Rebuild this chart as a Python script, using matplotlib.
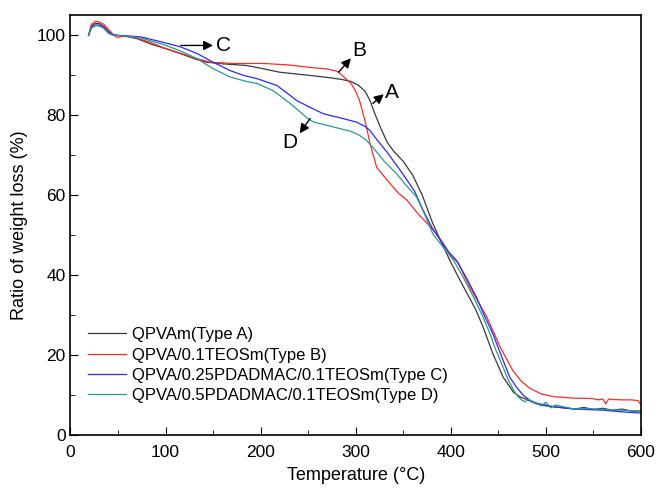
import matplotlib
matplotlib.use("Agg")
import matplotlib.pyplot as plt
from matplotlib.ticker import MultipleLocator

plt.rcParams['font.family'] = ['Liberation Sans', 'DejaVu Sans']

# --- data (temperature in degC, weight ratio in %) ---
t_a = [19, 22, 26, 30, 35, 40, 45, 50, 60, 70, 85, 100, 115, 130, 143, 160, 185, 200, 220,
       240, 252, 270, 285, 295, 303, 310, 315, 320, 326, 333, 340, 350, 360, 370, 381, 390,
       399, 408, 417, 426, 434, 444, 455, 466, 473, 480, 490, 500, 510, 520, 530, 540, 550,
       560, 570, 580, 590, 600]
w_a = [100, 102.4, 103, 103, 102.3, 101, 100.2, 100, 99.7, 99.2, 97.8, 96.7, 95.5, 94.2,
       93.3, 92.9, 92.5, 91.8, 90.8, 90.3, 90, 89.5, 89, 88.5, 87.5, 86, 83.7, 80.5, 77, 73.3,
       71, 68.5, 65, 60, 53, 48.3, 43.7, 39.5, 35.5, 31.5, 27, 20.5, 14.5, 10.7, 9.5, 8.9,
       7.8, 7.3, 7, 6.8, 6.5, 6.9, 6.4, 6.7, 6.2, 6.5, 6, 6]

t_b = [19, 22, 26, 30, 35, 40, 45, 49, 53, 60, 70, 85, 97, 115, 133, 147, 170, 203, 230,
       252, 270, 281, 288, 295, 300, 304, 310, 315, 322, 333, 345, 354, 365, 375, 385, 392,
       400, 408, 420, 438, 452, 465, 474, 483, 495, 508, 520, 530, 540, 550, 555, 560, 563,
       566, 570, 580, 590, 597, 600]
w_b = [100, 102.8, 103.5, 103.4, 102.8, 101.5, 100.2, 99.5, 99.7, 99.8, 99.3, 98.2, 97,
       95.6, 94.2, 93.3, 93, 93, 92.6, 92, 91.6, 91, 89.5, 88, 86, 83.7, 78.5, 73, 67, 63.8,
       60.5, 58.8, 55.5, 53, 50.3, 48, 45, 43, 37, 29.5, 22, 16.2, 13.5, 11.7, 10.3, 9.6,
       9.4, 9.2, 9.2, 9.1, 8.8, 9, 7.8, 9, 8.9, 8.8, 8.8, 8.6, 7.5]

t_c = [19, 22, 26, 30, 35, 40, 45, 50, 60, 75, 97, 115, 133, 150, 168, 182, 196, 217, 231,
       238, 252, 266, 285, 301, 310, 315, 322, 333, 343, 354, 362, 371, 380, 389, 397, 406,
       416, 427, 436, 444, 455, 462, 469, 476, 483, 491, 500, 510, 530, 561, 580, 600]
w_c = [100, 102, 102.6, 102.6, 102, 100.8, 100.1, 100, 99.9, 99.6, 98.3, 97.2, 95.5, 93.3,
       91.2, 90, 89.2, 87.5, 85, 83.7, 82, 80.4, 79.3, 78.3, 77.2, 76.2, 74, 70.8, 67.5, 63.8,
       61, 56.2, 52, 48.8, 46, 43.7, 39.5, 34.5, 29.5, 25.5, 18.7, 14.5, 12, 10, 8.7, 7.9,
       7.5, 7, 6.5, 6.2, 5.8, 5.5]

t_d = [19, 22, 26, 30, 35, 40, 45, 50, 60, 75, 97, 115, 133, 150, 168, 185, 196, 213, 231,
       241, 249, 256, 270, 283, 295, 304, 311, 318, 330, 343, 353, 364, 372, 381, 392, 403,
       413, 424, 433, 441, 447, 452, 460, 466, 471, 475, 478, 482, 486, 491, 495, 500, 505,
       510, 520, 530, 545, 560, 580, 600]
w_d = [100, 101.8, 102.4, 102.4, 101.8, 100.5, 100, 100, 99.8, 99.3, 97.8, 96.2, 94.2,
       91.7, 89.6, 88.5, 88, 86.2, 83, 81, 79.3, 78.3, 77.5, 76.7, 76, 75, 73.8, 72, 68.5,
       65.4, 62.5, 59.6, 55.5, 50.4, 47, 43.7, 39.5, 34.5, 30, 25.5, 21.5, 18.7, 14, 11.2,
       9.5, 8.7, 8.3, 9, 8.2, 7.9, 7.3, 8.2, 6.8, 7.5, 7, 6.5, 6.6, 6.4, 6.2, 6]

labels = ["QPVAm(Type A)", "QPVA/0.1TEOSm(Type B)",
          "QPVA/0.25PDADMAC/0.1TEOSm(Type C)", "QPVA/0.5PDADMAC/0.1TEOSm(Type D)"]
colors = ["#3a3a3a", "#ff2a2a", "#2a2aff", "#2a9a8c"]

fig = plt.figure(figsize=(6.58, 4.93), dpi=100)
ax = fig.add_axes([0.1071, 0.1176, 0.867, 0.851])

for t, w, lab, c in zip([t_a, t_b, t_c, t_d], [w_a, w_b, w_c, w_d], labels, colors):
    ax.plot(t, w, color=c, lw=0.9, label=lab)

# arrows pointing to each curve
arrow = dict(arrowstyle='-|>', color='black', lw=1, mutation_scale=14, shrinkA=0, shrinkB=0)
ax.annotate("", xy=(150, 97.5), xytext=(116, 97.5), arrowprops=arrow)
ax.text(153, 97.6, "C", fontsize=15, va='center', ha='left')
ax.annotate("", xy=(295, 94.3), xytext=(282, 90.8), arrowprops=arrow)
ax.text(296, 96.2, "B", fontsize=15, va='center', ha='left')
ax.annotate("", xy=(329.5, 85.3), xytext=(318, 83), arrowprops=arrow)
ax.text(331, 85.7, "A", fontsize=15, va='center', ha='left')
ax.annotate("", xy=(241, 75.5), xytext=(252, 79.2), arrowprops=arrow)
ax.text(239, 73.3, "D", fontsize=15, va='center', ha='right')

ax.set_xlim(0, 600)
ax.set_ylim(0, 105)
ax.xaxis.set_major_locator(MultipleLocator(100))
ax.xaxis.set_minor_locator(MultipleLocator(50))
ax.yaxis.set_major_locator(MultipleLocator(20))
ax.yaxis.set_minor_locator(MultipleLocator(10))
ax.tick_params(which='both', direction='in', labelsize=12.5)
ax.tick_params(which='major', length=6)
ax.tick_params(which='minor', length=3.5)
ax.tick_params(axis='x', pad=7)
for s in ax.spines.values():
    s.set_linewidth(1.2)

ax.set_xlabel("Temperature (\u00b0C)", fontsize=13, labelpad=5)
ax.set_ylabel("Ratio of weight loss (%)", fontsize=13, labelpad=6)

ax.legend(loc='lower left', bbox_to_anchor=(0.01, 0.048), frameon=False, fontsize=12,
          handlelength=2.3, handletextpad=0.35, labelspacing=0.32, borderpad=0.2)

fig.savefig("out.png", dpi=100)
